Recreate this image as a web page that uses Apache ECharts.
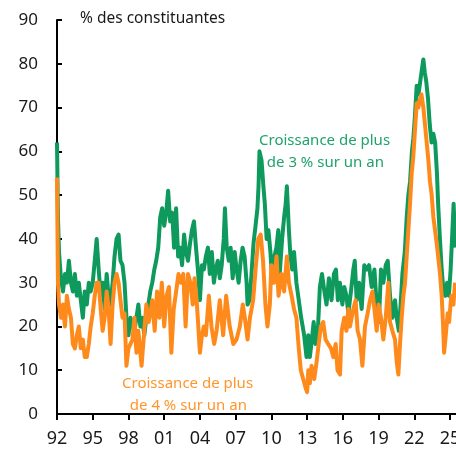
<!DOCTYPE html>
<html>
<head>
<meta charset="utf-8">
<script src="https://cdn.jsdelivr.net/npm/echarts@6/dist/echarts.min.js"></script>
<style>
  html, body { margin: 0; padding: 0; background: #fff; }
  #chart { width: 456px; height: 452px; }
</style>
</head>
<body>
<div id="chart"></div>
<script>
// part des constituants en croissance (année décimale, %)
var greenYears = [1992.0, 1992.08, 1992.17, 1992.33, 1992.5, 1992.67, 1992.83, 1993.0, 1993.17, 1993.33, 1993.5, 1993.67, 1993.83,
  1994.0, 1994.17, 1994.33, 1994.5, 1994.67, 1994.83, 1995.0, 1995.17, 1995.33, 1995.5, 1995.67, 1995.83,
  1996.0, 1996.17, 1996.33, 1996.5, 1996.67, 1996.83, 1997.0, 1997.17, 1997.33, 1997.5, 1997.67, 1997.83,
  1998.0, 1998.17, 1998.33, 1998.5, 1998.67, 1998.83, 1999.0, 1999.17, 1999.33, 1999.5, 1999.67, 1999.83,
  2000.0, 2000.17, 2000.33, 2000.5, 2000.67, 2000.83, 2001.0, 2001.17, 2001.33, 2001.5, 2001.67, 2001.83,
  2002.0, 2002.17, 2002.33, 2002.5, 2002.67, 2002.83, 2003.0, 2003.17, 2003.33, 2003.5, 2003.67, 2003.83,
  2004.0, 2004.17, 2004.33, 2004.5, 2004.67, 2004.83, 2005.0, 2005.17, 2005.33, 2005.5, 2005.67, 2005.83,
  2006.0, 2006.1, 2006.25, 2006.42, 2006.58, 2006.75, 2006.92, 2007.08, 2007.25, 2007.42, 2007.58, 2007.75, 2007.92,
  2008.0, 2008.17, 2008.33, 2008.5, 2008.67, 2008.83, 2008.92, 2009.0, 2009.17, 2009.33, 2009.45, 2009.6, 2009.75, 2009.92,
  2010.07, 2010.25, 2010.42, 2010.58, 2010.7, 2010.9, 2011.07, 2011.2, 2011.3, 2011.47, 2011.6, 2011.75, 2011.9,
  2012.1, 2012.3, 2012.5, 2012.75, 2012.95, 2013.1, 2013.23, 2013.4, 2013.55, 2013.7, 2013.9,
  2014.07, 2014.25, 2014.45, 2014.63, 2014.83, 2015.05, 2015.25, 2015.42, 2015.58, 2015.75, 2015.96,
  2016.12, 2016.3, 2016.46, 2016.68, 2016.88, 2017.0, 2017.16, 2017.36, 2017.58, 2017.8,
  2018.0, 2018.2, 2018.42, 2018.65, 2018.84, 2019.03, 2019.2, 2019.4, 2019.6, 2019.77, 2019.96,
  2020.16, 2020.38, 2020.52, 2020.7, 2020.85, 2021.0, 2021.2, 2021.36, 2021.5, 2021.64, 2021.8, 2021.92,
  2022.05, 2022.2, 2022.35, 2022.5, 2022.65, 2022.76, 2022.88, 2023.0, 2023.15, 2023.3, 2023.45, 2023.6, 2023.75, 2023.9,
  2024.0, 2024.15, 2024.3, 2024.45, 2024.6, 2024.75, 2024.9, 2025.05, 2025.2, 2025.3, 2025.45];
var greenValues = [62, 45, 37, 31, 28, 32, 30, 35, 30, 28, 32, 27, 30,
  26, 22, 28, 25, 30, 28, 30, 35, 40, 33, 27, 30,
  24, 32, 27, 25, 30, 36, 40, 41, 35, 34, 30, 22,
  18, 22, 20, 19, 22, 25, 20, 22, 18, 22, 25, 28,
  30, 33, 35, 38, 45, 47, 43, 46, 51, 44, 46, 38,
  47, 36, 38, 34, 41, 37, 35, 39, 42, 44, 38, 33,
  26, 34, 33, 36, 38, 32, 37, 30, 33, 35, 31, 34,
  40, 47, 38, 35, 38, 31, 37, 33, 30, 35, 38, 36, 30,
  25, 26, 32, 39, 43, 47, 52, 60, 58, 52, 48, 40, 42, 37,
  30, 36, 38, 42, 32, 40, 45, 48, 52, 42, 36, 33, 37,
  30, 26, 22, 18, 13, 18, 13, 17, 21, 16, 19,
  29, 32, 28, 25, 31, 26, 32, 33, 26, 30, 25,
  29, 27, 23, 28, 33, 35, 26, 30, 24, 34,
  33, 34, 29, 33, 25, 21, 33, 30, 34, 35, 27,
  22, 26, 22, 19, 25, 32, 37, 45, 50, 53, 60, 63,
  68, 75, 73, 76, 79, 81, 78, 76, 72, 66, 62, 64, 62, 55,
  48, 40, 33, 28, 27, 30, 27, 33, 42, 48, 38];

var orangeYears = [1992.0, 1992.08, 1992.17, 1992.33, 1992.5, 1992.67, 1992.83, 1993.0, 1993.17, 1993.33, 1993.5, 1993.67, 1993.83,
  1994.0, 1994.17, 1994.33, 1994.5, 1994.67, 1994.83, 1995.0, 1995.17, 1995.33, 1995.5, 1995.67, 1995.83,
  1996.0, 1996.17, 1996.33, 1996.5, 1996.67, 1996.83, 1997.0, 1997.17, 1997.33, 1997.5, 1997.67, 1997.83,
  1998.0, 1998.17, 1998.33, 1998.5, 1998.67, 1998.83, 1999.0, 1999.1, 1999.3, 1999.5, 1999.7, 1999.9,
  2000.0, 2000.2, 2000.4, 2000.6, 2000.8, 2001.0, 2001.2, 2001.4, 2001.6, 2001.8,
  2002.0, 2002.2, 2002.4, 2002.6, 2002.8, 2003.0, 2003.2, 2003.4, 2003.55, 2003.75,
  2004.0, 2004.17, 2004.33, 2004.5, 2004.75, 2004.97, 2005.2, 2005.4, 2005.67, 2005.95,
  2006.2, 2006.5, 2006.8, 2007.07, 2007.35, 2007.6, 2007.77, 2008.0, 2008.2, 2008.47, 2008.67, 2008.9,
  2009.1, 2009.3, 2009.5, 2009.67, 2009.87, 2010.0, 2010.23, 2010.43, 2010.6, 2010.85,
  2011.07, 2011.3, 2011.47, 2011.7, 2011.9, 2012.1, 2012.3, 2012.47, 2012.67, 2012.87,
  2013.0, 2013.1, 2013.23, 2013.37, 2013.6, 2013.8, 2013.93, 2014.15, 2014.35, 2014.55, 2014.77,
  2015.0, 2015.2, 2015.4, 2015.55, 2015.76, 2015.9, 2016.12, 2016.3, 2016.46, 2016.6, 2016.88,
  2017.07, 2017.24, 2017.44, 2017.64, 2017.86, 2018.08, 2018.28, 2018.48, 2018.65, 2018.84,
  2019.0, 2019.2, 2019.4, 2019.6, 2019.82, 2019.96, 2020.16, 2020.38, 2020.52, 2020.66, 2020.8, 2020.94,
  2021.08, 2021.22, 2021.36, 2021.5, 2021.64, 2021.78, 2021.92, 2022.06, 2022.2, 2022.34, 2022.48, 2022.6, 2022.76, 2022.9,
  2023.04, 2023.18, 2023.32, 2023.46, 2023.6, 2023.74, 2023.88, 2024.0, 2024.16, 2024.3, 2024.42, 2024.5,
  2024.64, 2024.8, 2024.92, 2025.1, 2025.28, 2025.42];
var orangeValues = [54, 30, 25, 22, 25, 20, 27, 24, 22, 16, 15, 18, 20,
  15, 17, 13, 13, 16, 20, 23, 27, 30, 30, 24, 19,
  22, 28, 24, 16, 25, 30, 32, 30, 26, 22, 23, 11,
  15, 16, 17, 22, 14, 19, 14, 11, 18, 25, 21, 24,
  26, 19, 28, 22, 30, 20, 27, 29, 14, 24,
  28, 32, 30, 32, 20, 32, 30, 25, 31, 25,
  14, 18, 20, 18, 27, 20, 16, 19, 26, 18,
  27, 20, 16, 17, 20, 25, 22, 17, 22, 26, 33, 40,
  41, 35, 25, 20, 25, 34, 30, 36, 27, 32,
  28, 36, 30, 27, 24, 22, 15, 10, 8, 6,
  5, 10, 7, 11, 8, 12, 15, 20, 21, 17, 16,
  15, 13, 16, 10, 9, 19, 22, 19, 24, 20, 24,
  26, 19, 17, 11, 20, 23, 26, 28, 24, 19,
  25, 22, 17, 22, 30, 21, 19, 17, 12, 9, 16, 22,
  27, 30, 36, 42, 48, 55, 59, 65, 71, 70, 72, 73, 70, 66,
  62, 58, 53, 50, 45, 42, 39, 36, 32, 27, 20, 14,
  18, 23, 21, 27, 25, 30];

var yearTicks = [1992, 1995, 1998, 2001, 2004, 2007, 2010, 2013, 2016, 2019, 2022, 2025];

function pairs(xs, ys) {
    var out = [];
    for (var i = 0; i < xs.length; i++) {
        out.push([xs[i], ys[i]]);
    }
    return out;
}

var font = "'Noto Sans', 'Open Sans', sans-serif";
var myChart = echarts.init(document.getElementById('chart'));
myChart.setOption({
    animation: false,
    grid: {
        left: 57,
        right: 0,
        top: 20,
        bottom: 38,
        containLabel: false,
        outerBoundsMode: 'none'
    },
    xAxis: {
        type: 'value',
        min: 1992,
        max: 2025.5,
        interval: 3,
        splitLine: { show: false },
        axisLine: { lineStyle: { color: '#000', width: 2 } },
        axisTick: { length: 6, lineStyle: { color: '#000', width: 2 } },
        axisLabel: {
            margin: 16,
            showMaxLabel: false,
            hideOverlap: false,
            fontFamily: font,
            fontSize: 18,
            color: '#1a1a1a',
            formatter: function (v) {
                if (yearTicks.indexOf(v) < 0) return '';
                var s = String(v % 100);
                return s.length < 2 ? '0' + s : s;
            }
        }
    },
    yAxis: {
        type: 'value',
        min: 0,
        max: 90,
        interval: 10,
        splitLine: { show: false },
        axisLine: { show: true, lineStyle: { color: '#000', width: 2 } },
        axisTick: { show: true, inside: true, length: 5, lineStyle: { color: '#000', width: 2 } },
        axisLabel: {
            margin: 19,
            fontFamily: font,
            fontSize: 17,
            color: '#1a1a1a'
        }
    },
    graphic: [{
        type: 'text',
        left: 80,
        top: 11,
        style: { text: '% des constituantes', font: '15.5px ' + font, fill: '#1a1a1a' }
    }, {
        type: 'text',
        left: 259,
        top: 130,
        style: { text: 'Croissance de plus\n  de 3 % sur un an', font: '15px ' + font, fill: '#1fa36a', lineHeight: 22 }
    }, {
        type: 'text',
        left: 122,
        top: 373,
        style: { text: 'Croissance de plus\n  de 4 % sur un an', font: '15px ' + font, fill: '#ff952b', lineHeight: 22 }
    }],
    series: [{
        name: 'Croissance de plus de 3 % sur un an',
        type: 'line',
        showSymbol: false,
        data: pairs(greenYears, greenValues),
        lineStyle: { color: '#0f9a5d', width: 4, join: 'round' }
    }, {
        name: 'Croissance de plus de 4 % sur un an',
        type: 'line',
        showSymbol: false,
        data: pairs(orangeYears, orangeValues),
        lineStyle: { color: '#ff8a1c', width: 4, join: 'round' }
    }]
});
</script>
</body>
</html>
